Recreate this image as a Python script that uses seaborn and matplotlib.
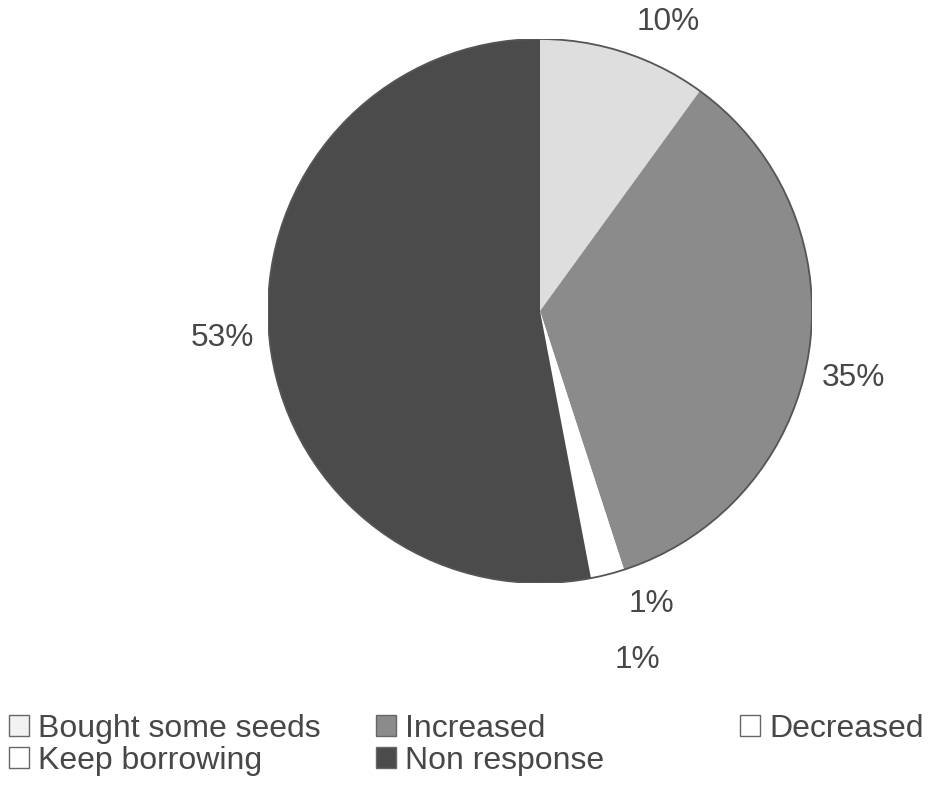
import matplotlib
matplotlib.use("Agg")
import matplotlib.pyplot as plt
from matplotlib.patches import Patch, Circle
import seaborn as sns

# ---- data ----
categories = ["Bought some seeds", "Increased", "Decreased", "Keep borrowing", "Non response"]
values = [10, 35, 1, 1, 53]
pct_labels = ["10%", "35%", "1%", "1%", "53%"]

sns.set_theme(style="white")
plt.rcParams['font.family'] = ['Liberation Sans', 'DejaVu Sans']

colors = ["#dedede", "#8b8b8b", "#ffffff", "#ffffff", "#4b4b4b"]
text_color = "#474747"

W, H = 931, 786
fig = plt.figure(figsize=(W / 100, H / 100), dpi=100)
cx, cy, R = 540, 311, 272
ax = fig.add_axes([(cx - R) / W, 1 - (cy + R) / H, 2 * R / W, 2 * R / H])

wedges, texts = ax.pie(values, colors=colors, startangle=90, counterclock=False,
                       radius=1.0, labels=pct_labels, labeldistance=1.17,
                       wedgeprops=dict(edgecolor="none", linewidth=0),
                       textprops=dict(fontsize=22.8, color=text_color))
ax.add_patch(Circle((0, 0), 1.0, fill=False, edgecolor="#555555", linewidth=1.3))
ax.set_xlim(-1, 1)
ax.set_ylim(-1, 1)
ax.set_aspect("equal")
ax.axis("off")

label_px = [(668, 22), (853, 378), (651, 604), (637, 660), (222, 338)]
for t, (px, py) in zip(texts, label_px):
    t.set_position(((px - cx) / R, (cy - py) / R))
    t.set_ha("center")
    t.set_va("center")

# legend in three columns
handles = [Patch(facecolor=c, edgecolor="#666666", linewidth=1.0, label=lab)
           for c, lab in zip(colors, categories)]
handles[0].set_facecolor("#f2f2f2")
cols = [[handles[0], handles[3]], [handles[1], handles[4]], [handles[2]]]
col_x = [9, 376, 740]
for hs, x in zip(cols, col_x):
    leg = fig.legend(handles=hs, loc="upper left",
                     bbox_to_anchor=(x / W, 1 - 714 / H),
                     frameon=False, fontsize=23.0, handlelength=0.62, handleheight=0.62,
                     handletextpad=0.3, labelspacing=0.05, borderpad=0, borderaxespad=0)
    for t in leg.get_texts():
        t.set_color(text_color)

fig.savefig("out.png", dpi=100, facecolor="white")
